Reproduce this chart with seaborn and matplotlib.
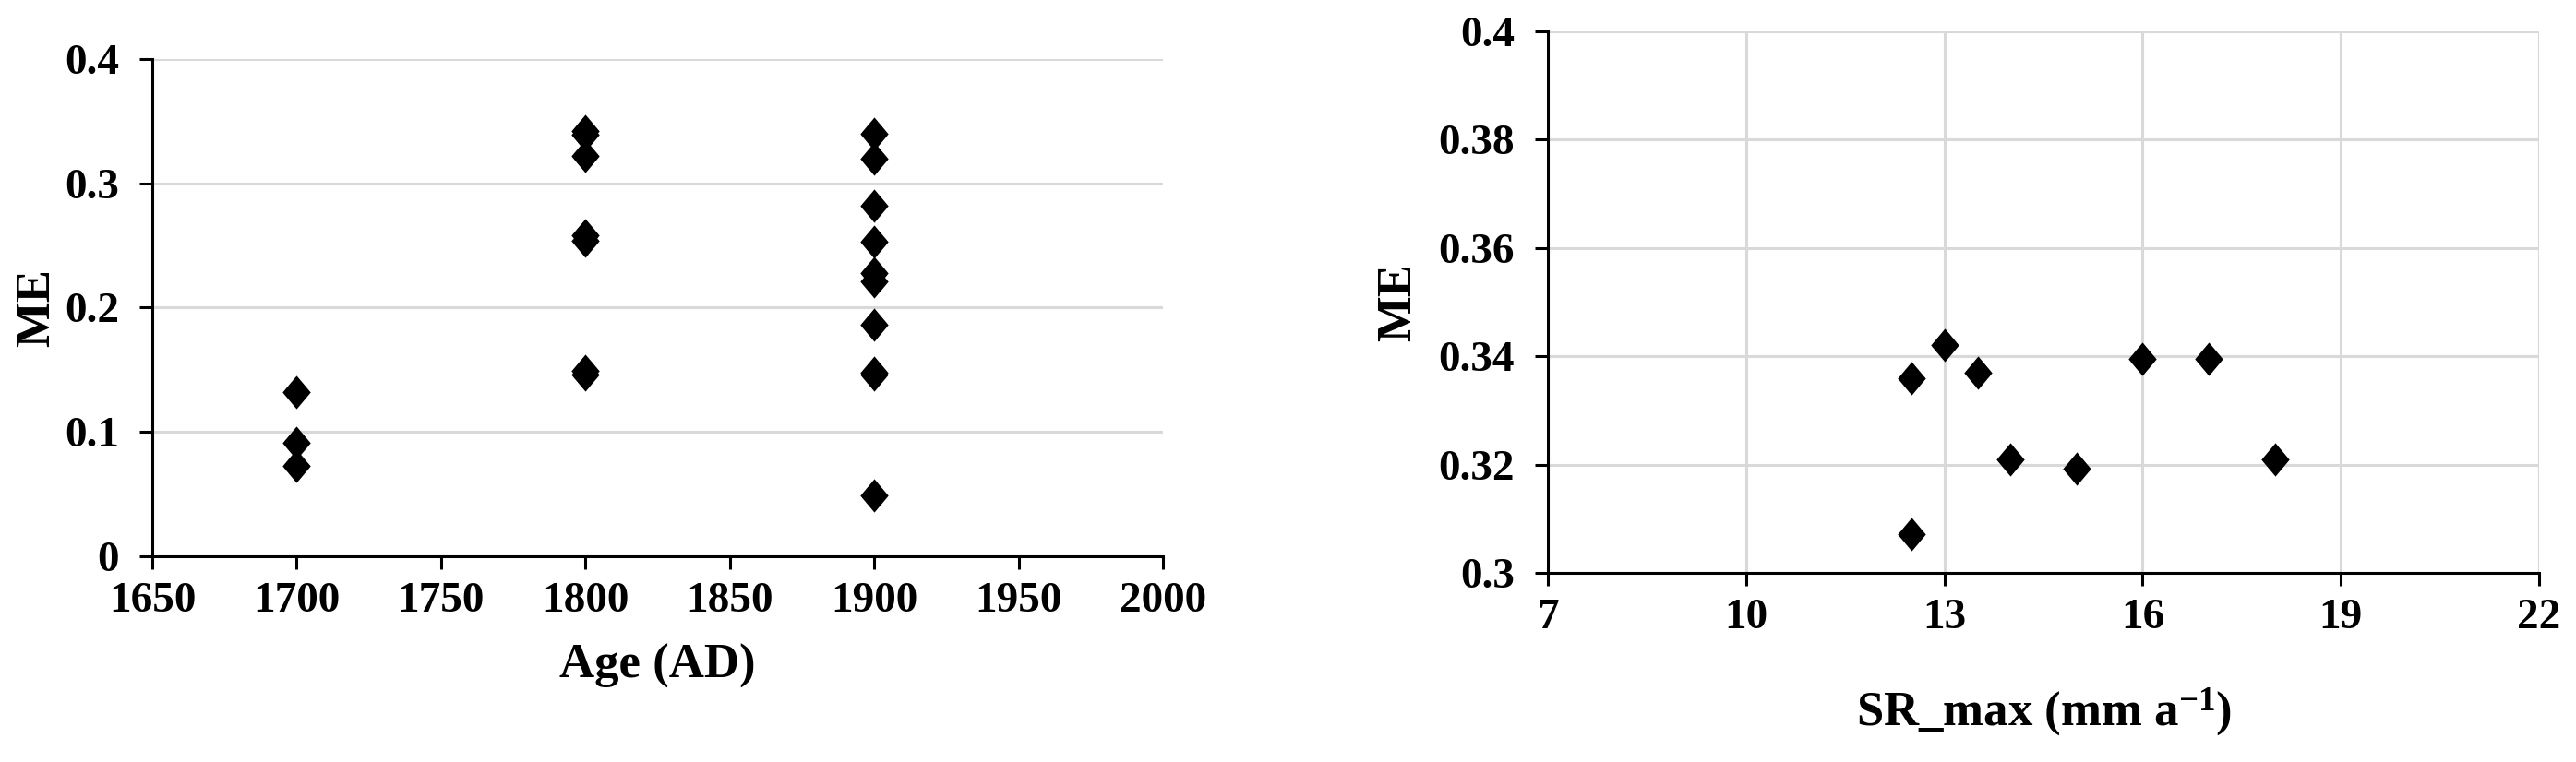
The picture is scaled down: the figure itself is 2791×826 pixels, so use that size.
import matplotlib
matplotlib.use("Agg")
import matplotlib.pyplot as plt
from matplotlib.ticker import FuncFormatter, FixedLocator
import numpy as np
import pandas as pd
import seaborn as sns

# left panel: ME by age
age = [1700, 1700, 1700,
       1800, 1800, 1800, 1800, 1800, 1800, 1800,
       1900, 1900, 1900, 1900, 1900, 1900, 1900, 1900, 1900, 1900]
me_age = [0.132, 0.091, 0.073,
          0.342, 0.339, 0.322, 0.258, 0.254, 0.149, 0.146,
          0.340, 0.320, 0.282, 0.253, 0.228, 0.221, 0.186, 0.148, 0.146, 0.049]

# right panel: ME by maximum sedimentation rate
sr_max = [12.5, 13.0, 13.5, 14.0, 15.0, 16.0, 17.0, 18.0, 12.5]
me_sr = [0.336, 0.342, 0.337, 0.321, 0.3193, 0.3396, 0.3396, 0.321, 0.3072]

# axis ticks
age_ticks = [1650, 1700, 1750, 1800, 1850, 1900, 1950, 2000]
me_ticks_left = [0, 0.1, 0.2, 0.3, 0.4]
sr_ticks = [7, 10, 13, 16, 19, 22]
me_ticks_right = [0.3, 0.32, 0.34, 0.36, 0.38, 0.4]

left_df = pd.DataFrame({"age": age, "ME": me_age})
right_df = pd.DataFrame({"sr": sr_max, "ME": me_sr})

sns.set_theme(style="white")
plt.rcParams["font.family"] = ["Liberation Serif", "DejaVu Serif"]
plt.rcParams["font.weight"] = "bold"
plt.rcParams["text.color"] = "black"
plt.rcParams["axes.labelcolor"] = "black"
plt.rcParams["mathtext.fontset"] = "custom"
plt.rcParams["mathtext.rm"] = "Liberation Serif:bold"
plt.rcParams["mathtext.it"] = "Liberation Serif:bold"
plt.rcParams["mathtext.bf"] = "Liberation Serif:bold"

diamond = [(0, 1), (0.84, 0), (0, -1), (-0.84, 0), (0, 1)]
grid_col = "#d9d9d9"
tick_fs = 34
label_fs = 38

fig = plt.figure(figsize=(27.91, 8.26), dpi=100)
ax1 = fig.add_axes([0.0591, 0.270, 0.4515 - 0.0591, 0.9225 - 0.270])
ax2 = fig.add_axes([0.6009, 0.2482, 0.9857 - 0.6009, 0.9588 - 0.2482])

sns.scatterplot(data=left_df, x="age", y="ME", ax=ax1, marker=diamond, s=680,
                color="black", edgecolor="black", linewidth=0, zorder=3)
sns.scatterplot(data=right_df, x="sr", y="ME", ax=ax2, marker=diamond, s=680,
                color="black", edgecolor="black", linewidth=0, zorder=3)

ax1.set_xlim(1650, 2000)
ax1.set_ylim(0, 0.4)
ax1.xaxis.set_major_locator(FixedLocator(age_ticks))
ax1.yaxis.set_major_locator(FixedLocator(me_ticks_left))
ax1.yaxis.grid(True, color=grid_col, linewidth=2.2)
ax1.xaxis.grid(False)

ax2.set_xlim(7, 22)
ax2.set_ylim(0.3, 0.4)
ax2.xaxis.set_major_locator(FixedLocator(sr_ticks))
ax2.yaxis.set_major_locator(FixedLocator(me_ticks_right))
ax2.grid(True, color=grid_col, linewidth=2.2)

for ax in (ax1, ax2):
    ax.yaxis.set_major_formatter(FuncFormatter(lambda v, p: f"{round(v, 3):g}"))
    ax.xaxis.set_major_formatter(FuncFormatter(lambda v, p: f"{v:g}"))
    ax.set_axisbelow(True)
    for side in ("top", "right"):
        ax.spines[side].set_visible(False)
    for side in ("left", "bottom"):
        ax.spines[side].set_color("black")
        ax.spines[side].set_linewidth(2.2)
    ax.tick_params(axis="both", which="major", direction="out", length=10, width=2.2,
                   color="black", labelsize=tick_fs, labelcolor="black",
                   bottom=True, left=True)
    ax.tick_params(axis="x", pad=10)
    ax.tick_params(axis="y", pad=16)
    for lab in ax.get_xticklabels() + ax.get_yticklabels():
        lab.set_fontweight("bold")

ax1.set_xlabel("Age (AD)", fontsize=label_fs, fontweight="bold", labelpad=18)
ax1.set_ylabel("ME", fontsize=label_fs, fontweight="bold", labelpad=4)
ax2.set_xlabel(r"SR_max (mm a$^{-1}$)", fontsize=label_fs, fontweight="bold", labelpad=38)
ax2.set_ylabel("ME", fontsize=label_fs, fontweight="bold", labelpad=14)

fig.savefig("out.png", dpi=100)
